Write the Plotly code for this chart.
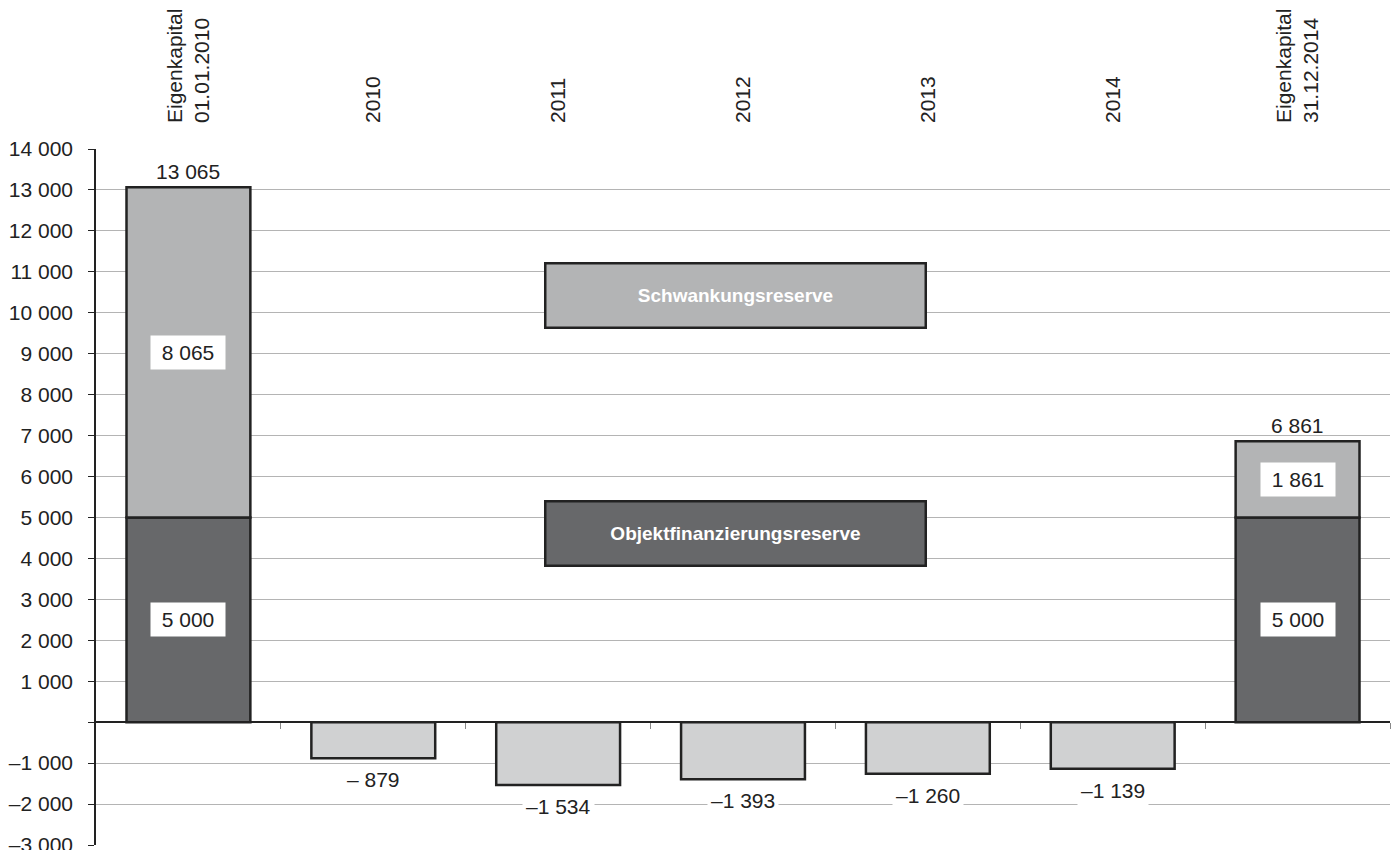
import plotly.graph_objects as go

categories = ["Eigenkapital<br>01.01.2010", "2010", "2011", "2012", "2013", "2014", "Eigenkapital<br>31.12.2014"]
objekt = [5000, None, None, None, None, None, 5000]
schwankung = [8065, None, None, None, None, None, 1861]
changes = [None, -879, -1534, -1393, -1260, -1139, None]
change_labels = ["", "\u2013 879", "\u20131 534", "\u20131 393", "\u20131 260", "\u20131 139", ""]
y_ticks = list(range(-3000, 14001, 1000))

def fmt(v):
    s = f"{abs(v):,}".replace(",", " ")
    return ("\u2013" + s) if v < 0 else s

y_ticktext = ["" if v == 0 else fmt(v) for v in y_ticks]

DARK = "#67686a"
MID = "#b3b4b5"
LIGHT = "#d0d1d2"
EDGE = "#222222"
FONT = "Liberation Sans, Arial, sans-serif"
FS = 21

x = list(range(len(categories)))
fig = go.Figure()
fig.add_bar(x=x, y=objekt, marker=dict(color=DARK, line=dict(color=EDGE, width=2.5)), width=0.67, name="Objektfinanzierungsreserve")
fig.add_bar(x=x, y=schwankung, marker=dict(color=MID, line=dict(color=EDGE, width=2.5)), width=0.67, name="Schwankungsreserve")
fig.add_bar(x=x, y=changes, marker=dict(color=LIGHT, line=dict(color=EDGE, width=2.5)), width=0.67, name="Veränderung")

annotations = []
for i in x:
    if objekt[i] is not None:
        o, s = objekt[i], schwankung[i]
        for yv, txt in ((o / 2, fmt(o)), (o + s / 2, fmt(s))):
            annotations.append(dict(x=i, y=yv, xref="x", yref="y", text=txt, showarrow=False,
                                    xanchor="center", yanchor="middle", width=64, height=23,
                                    bgcolor="white", borderpad=5, font=dict(size=FS, color=EDGE)))
        annotations.append(dict(x=i, y=o + s, xref="x", yref="y", text=fmt(o + s), showarrow=False,
                                yanchor="bottom", yshift=2, font=dict(size=FS, color=EDGE)))
    if changes[i] is not None:
        annotations.append(dict(x=i, y=changes[i], xref="x", yref="y", text=change_labels[i], showarrow=False,
                                yanchor="top", yshift=-6, bgcolor="white", borderpad=3,
                                font=dict(size=FS, color=EDGE)))

annotations.append(dict(x=0.4942, y=0.7895, xref="paper", yref="paper", text="<b>Schwankungsreserve</b>",
                        showarrow=False, xanchor="center", yanchor="middle", width=376, height=60,
                        bgcolor=MID, bordercolor=EDGE, borderwidth=2.5,
                        borderpad=1, font=dict(size=19, color="white")))
annotations.append(dict(x=0.4942, y=0.4476, xref="paper", yref="paper", text="<b>Objektfinanzierungsreserve</b>",
                        showarrow=False, xanchor="center", yanchor="middle", width=376, height=60,
                        bgcolor=DARK, bordercolor=EDGE, borderwidth=2.5,
                        borderpad=1, font=dict(size=19, color="white")))

fig.update_layout(
    width=1392, height=842,
    margin=dict(l=88, r=10, t=141, b=5),
    paper_bgcolor="white", plot_bgcolor="white",
    barmode="relative", showlegend=False,
    font=dict(family=FONT, size=FS, color=EDGE),
    xaxis=dict(range=[-0.5, 6.5], side="top", tickmode="array", tickvals=x, ticktext=categories,
               tickangle=-90, showgrid=False, showline=False, zeroline=False, ticks="",
               ticklabelstandoff=25, automargin=False, tickfont=dict(size=FS, color=EDGE)),
    xaxis2=dict(range=[-0.5, 6.5], overlaying="x", anchor="free", position=3 / 17, side="bottom",
                tickmode="array", tickvals=[i + 0.5 for i in x], ticks="outside", ticklen=6,
                tickcolor="#888888", tickwidth=1, showticklabels=False, showgrid=False,
                showline=False, zeroline=False, automargin=False),
    yaxis=dict(range=[-3000, 14000], tickmode="array", tickvals=y_ticks, ticktext=y_ticktext,
               showline=True, linecolor=EDGE, linewidth=1.5, ticks="outside", ticklen=6,
               tickcolor=EDGE, gridcolor="#b4b4b4", gridwidth=1, zeroline=True,
               zerolinecolor=EDGE, zerolinewidth=1.5, ticklabelstandoff=11, automargin=False,
               ticklabeloverflow="allow", tickfont=dict(size=FS, color=EDGE)),
    annotations=annotations,
)
fig.add_scatter(x=[None], y=[None], xaxis="x2", yaxis="y", showlegend=False, hoverinfo="skip")

fig.write_html("out.html")
